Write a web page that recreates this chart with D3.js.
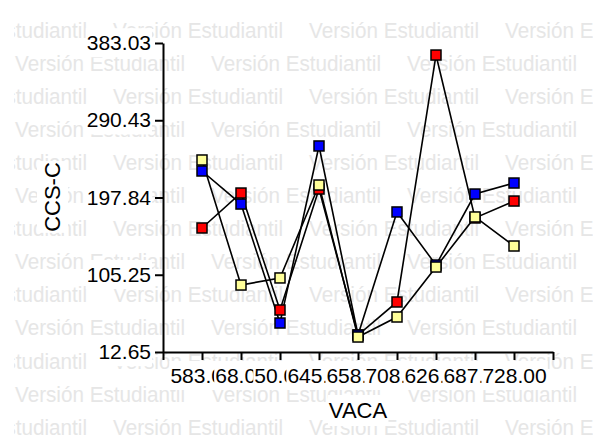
<!DOCTYPE html>
<html><head><meta charset="utf-8">
<script src="https://cdn.jsdelivr.net/npm/d3@7"></script>
<style>html,body{margin:0;padding:0;background:#fff;}svg{display:block;}</style>
</head><body>
<svg id="chart" width="599" height="437"></svg>
<script>
// ---- data ----
const categories = ["583.00","68.00","50.00","645.00","658.00","708.00","626.00","687.00","728.00"];
const redValues    = [161.3, 203.2, 63.0, 208.0, 33.0, 72.6, 368.6, 173.3, 193.6];
const blueValues   = [229.6, 190.0, 47.4, 259.6, 33.0, 180.5, 116.9, 202.0, 215.2];
const yellowValues = [242.8,  92.9, 101.4, 212.8, 30.6, 54.6, 114.5, 174.5, 139.7];
const yTickValues  = [12.65, 105.25, 197.84, 290.43, 383.03];
const seriesNames  = ["red","blue","yellow"];
const xTitle = "VACA";
const yTitle = "CCS-C";
const watermark = "Versión Estudiantil";

const FONT = "'Liberation Sans', Arial, sans-serif";
const FS = 21;
const FT = 22;
const svg = d3.select("#chart");

// watermark
const wm = svg.append("g");
svg.append("clipPath").attr("id","wmclip").append("rect").attr("x",14).attr("y",0).attr("width",579).attr("height",437);
wm.attr("clip-path","url(#wmclip)");
for (let k = 0; k < 13; k++) {
  const base = 37.5 + 33.1 * k;
  const off = (k % 2 === 0) ? 113 : 15;
  for (let j = -1; j < 4; j++) {
    wm.append("text").attr("x", off + 196 * j).attr("y", base)
      .attr("font-family", FONT).attr("font-size", 21.5).attr("fill", "#e6e6e6")
      .attr("textLength", 170).attr("lengthAdjust", "spacingAndGlyphs")
      .text(watermark);
  }
}

const x = d3.scaleLinear().domain([0, 10]).range([163, 553]);
const y = d3.scaleLinear().domain([12.65, 383.03]).range([352, 43]);

function boxText(sel, pad) {
  sel.each(function() {
    const b = this.getBBox();
    d3.select(this.parentNode).insert("rect", () => this)
      .attr("x", b.x - 1).attr("y", b.y - pad).attr("width", b.width + 2).attr("height", b.height + 2 * pad)
      .attr("fill", "#fff");
  });
}

// y axis
const gy = svg.append("g").attr("transform", "translate(163,0)")
  .call(d3.axisLeft(y).tickValues(yTickValues).tickFormat(d3.format(".2f")).tickSize(8).tickSizeOuter(0));
gy.selectAll("text").attr("font-family", FONT).attr("font-size", FS).attr("fill", "#000").attr("x", -12);
gy.selectAll("line,path").attr("stroke", "#000").attr("stroke-width", 2);
boxText(gy.selectAll("text"), 3);

// x axis
const gx = svg.append("g").attr("transform", "translate(0,352)")
  .call(d3.axisBottom(x).tickValues(d3.range(0, 11)).tickFormat(i => (i >= 1 && i <= categories.length) ? categories[i - 1] : "").tickSize(8).tickSizeOuter(0));
gx.selectAll("text").attr("font-family", FONT).attr("font-size", FS).attr("fill", "#000").attr("y", 31).attr("dy", 0);
gx.selectAll("line,path").attr("stroke", "#000").attr("stroke-width", 2);
boxText(gx.selectAll("text").filter(function(){ return this.textContent !== ""; }), 3);

// titles
const tx = svg.append("g").append("text").attr("x", 358).attr("y", 418).attr("text-anchor", "middle")
  .attr("font-family", FONT).attr("font-size", FT).text(xTitle);
const ty = svg.append("g").attr("transform", "translate(60,197) rotate(-90)").append("text")
  .attr("x", 0).attr("y", 0).attr("text-anchor", "middle")
  .attr("font-family", FONT).attr("font-size", FT).text(yTitle);
boxText(tx, 3); boxText(ty, 3);

// series
const data = { red: redValues, blue: blueValues, yellow: yellowValues };
const fills = { red: "#ff0000", blue: "#0000ff", yellow: "#ffff99" };
const line = d3.line().x((d, i) => x(i + 1)).y(d => y(d));
const plot = svg.append("g");
seriesNames.forEach(s => {
  plot.append("path").datum(data[s]).attr("d", line).attr("fill", "none").attr("stroke", "#000").attr("stroke-width", 1.6);
});
seriesNames.forEach(s => {
  plot.selectAll(null).data(data[s]).enter().append("rect")
    .attr("x", (d, i) => x(i + 1) - 5).attr("y", d => y(d) - 5)
    .attr("width", 10).attr("height", 10)
    .attr("fill", fills[s]).attr("stroke", "#000").attr("stroke-width", 1.5);
});
</script>
</body></html>
